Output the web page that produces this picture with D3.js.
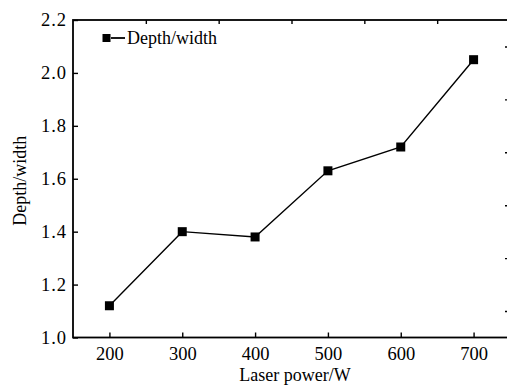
<!DOCTYPE html>
<html>
<head>
<meta charset="utf-8">
<script src="https://cdn.jsdelivr.net/npm/d3@7"></script>
<style>
  body { margin: 0; background: #fff; }
  text { font-family: "Liberation Serif", "Times New Roman", serif; fill: #000; }
</style>
</head>
<body>
<script>
const WIDTH = 507
const HEIGHT = 385

// data
const power = [200, 300, 400, 500, 600, 700]
const ratio = [1.12, 1.40, 1.38, 1.63, 1.72, 2.05]
const xTicks = [200, 300, 400, 500, 600, 700]
const xTopTicks = [250, 350, 450, 550, 650]
const yTicks = [1.0, 1.2, 1.4, 1.6, 1.8, 2.0, 2.2]
const yRightTicks = [1.1, 1.3, 1.5, 1.7, 1.9, 2.1]
const seriesName = "Depth/width"

const M = { left: 73, top: 20, right: 510, bottom: 337.5 }

const svg = d3.select("body").append("svg")
  .attr("width", WIDTH).attr("height", HEIGHT)

const x = d3.scaleLinear().domain([150, 750]).range([M.left, M.right])
const y = d3.scaleLinear().domain([1.0, 2.2]).range([M.bottom, M.top])

const styleAxis = g => {
  g.select(".domain").remove()
  g.selectAll(".tick line").attr("stroke", "#000").attr("stroke-width", 1.4)
  g.selectAll(".tick text").style("font-family", '"Liberation Serif", serif').style("font-size", "18.5px").attr("fill", "#000")
}

svg.append("g").attr("transform", `translate(0,${M.bottom})`)
  .call(d3.axisBottom(x).tickValues(xTicks).tickSizeInner(-5).tickSizeOuter(0).tickPadding(9).tickFormat(d3.format("d")))
  .call(styleAxis)

svg.append("g").attr("transform", `translate(${M.left},0)`)
  .call(d3.axisLeft(y).tickValues(yTicks).tickSizeInner(-5).tickSizeOuter(0).tickPadding(6).tickFormat(d3.format(".1f")))
  .call(styleAxis)
  .selectAll(".tick text").attr("letter-spacing", "1px")

svg.append("g").attr("transform", `translate(0,${M.top})`)
  .call(d3.axisTop(x).tickValues(xTopTicks).tickSizeInner(-4).tickSizeOuter(0).tickFormat(""))
  .call(styleAxis)

svg.append("g").attr("transform", `translate(${M.right},0)`)
  .call(d3.axisRight(y).tickValues(yRightTicks).tickSizeInner(-5).tickSizeOuter(0).tickFormat(""))
  .call(styleAxis)

// frame
svg.append("rect")
  .attr("x", M.left).attr("y", M.top)
  .attr("width", M.right - M.left).attr("height", M.bottom - M.top)
  .attr("fill", "none").attr("stroke", "#000").attr("stroke-width", 1.8)

const pts = power.map((p, i) => ({ p, v: ratio[i] }))

svg.append("path")
  .datum(pts)
  .attr("fill", "none").attr("stroke", "#000").attr("stroke-width", 1.4)
  .attr("d", d3.line().x(d => x(d.p)).y(d => y(d.v)))

const S = 9
svg.selectAll("rect.pt")
  .data(pts)
  .enter()
  .append("rect")
  .attr("class", "pt")
  .attr("x", d => x(d.p) - S / 2)
  .attr("y", d => y(d.v) - S / 2)
  .attr("width", S).attr("height", S)
  .attr("fill", "#000")

// legend
const lg = svg.append("g")
lg.append("rect").attr("x", 102.5).attr("y", 34).attr("width", 8).attr("height", 8).attr("fill", "#000")
lg.append("line").attr("x1", 111).attr("x2", 125).attr("y1", 38).attr("y2", 38)
  .attr("stroke", "#000").attr("stroke-width", 1.8)
lg.append("text").attr("x", 127).attr("y", 44).style("font-size", "18px").text(seriesName)

// axis titles
svg.append("text")
  .attr("x", 295).attr("y", 381)
  .attr("text-anchor", "middle").style("font-size", "18px")
  .text("Laser power/W")

svg.append("text")
  .attr("transform", `translate(26,${(M.top + M.bottom) / 2 + 2}) rotate(-90)`)
  .attr("text-anchor", "middle").style("font-size", "18px")
  .text("Depth/width")
</script>
</body>
</html>
